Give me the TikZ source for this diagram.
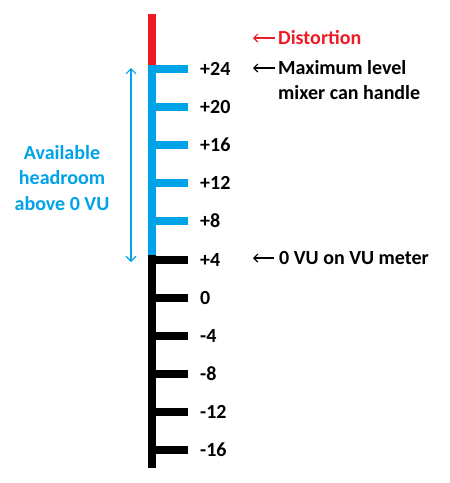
\documentclass[tikz,border=0pt]{standalone}
\usepackage{fontspec}
\setmainfont{Carlito}
\usetikzlibrary{arrows.meta}
\definecolor{hblue}{RGB}{0,162,232}
\definecolor{hred}{RGB}{237,28,36}
\begin{document}
\begin{tikzpicture}[x=1pt,y=-1pt,
  bar/.style={line width=8pt},
  tick/.style={line width=8pt},
  lvl/.style={anchor=base west,inner sep=0pt,font=\fontsize{20}{24}\selectfont\bfseries},
  note/.style={anchor=base west,inner sep=0pt,font=\fontsize{20}{24}\selectfont\bfseries},
  ptr/.style={-{Straight Barb[length=4pt,width=8pt]},line width=1.2pt}]
\useasboundingbox (0,0) rectangle (450,483);
% main bar
\draw[bar,hred] (152,14) -- (152,65);
\draw[bar,hblue] (152,65) -- (152,255);
\draw[bar,black] (152,255) -- (152,468);
% ticks and labels
\foreach \i/\t/\c in {0/+24/hblue,1/+20/hblue,2/+16/hblue,3/+12/hblue,4/+8/hblue,5/+4/black,6/0/black,7/-4/black,8/-8/black,9/-12/black,10/-16/black}{
  \pgfmathsetmacro\yy{69+38.1*\i}
  \draw[tick,\c] (148,\yy) -- (188,\yy);
  \node[lvl] (l\i) at (200,\yy+6.5) {\t};
}
% notes
\node[note,text=hred] (dist) at (278,44.5) {Distortion};
\coordinate (distend) at (253,38);
\draw[ptr,hred] (278-3,38) -- (distend);
\node[note] (maxl) at (278,74.5) {Maximum level};
\node[note] (maxl2) at (278,99.5) {mixer can handle};
\coordinate (maxend) at (253,68);
\draw[ptr] (278-3,68) -- (maxend);
\node[note] (zero) at (279,264.5) {0 VU on VU meter};
\coordinate (zeroend) at (253,258);
\draw[ptr] (279-5,258) -- (zeroend);
% headroom
\coordinate (htop) at (131,68);
\coordinate (hbot) at (131,262);
\draw[{Straight Barb[length=5pt,width=10pt]}-{Straight Barb[length=5pt,width=10pt]},line width=1.2pt,hblue] (htop) -- (hbot);
\node[align=center,text=hblue,font=\fontsize{20}{25.5}\selectfont\bfseries,inner sep=0pt] (head) at (62,178) {Available\\headroom\\above 0 VU};
\end{tikzpicture}
\end{document}
